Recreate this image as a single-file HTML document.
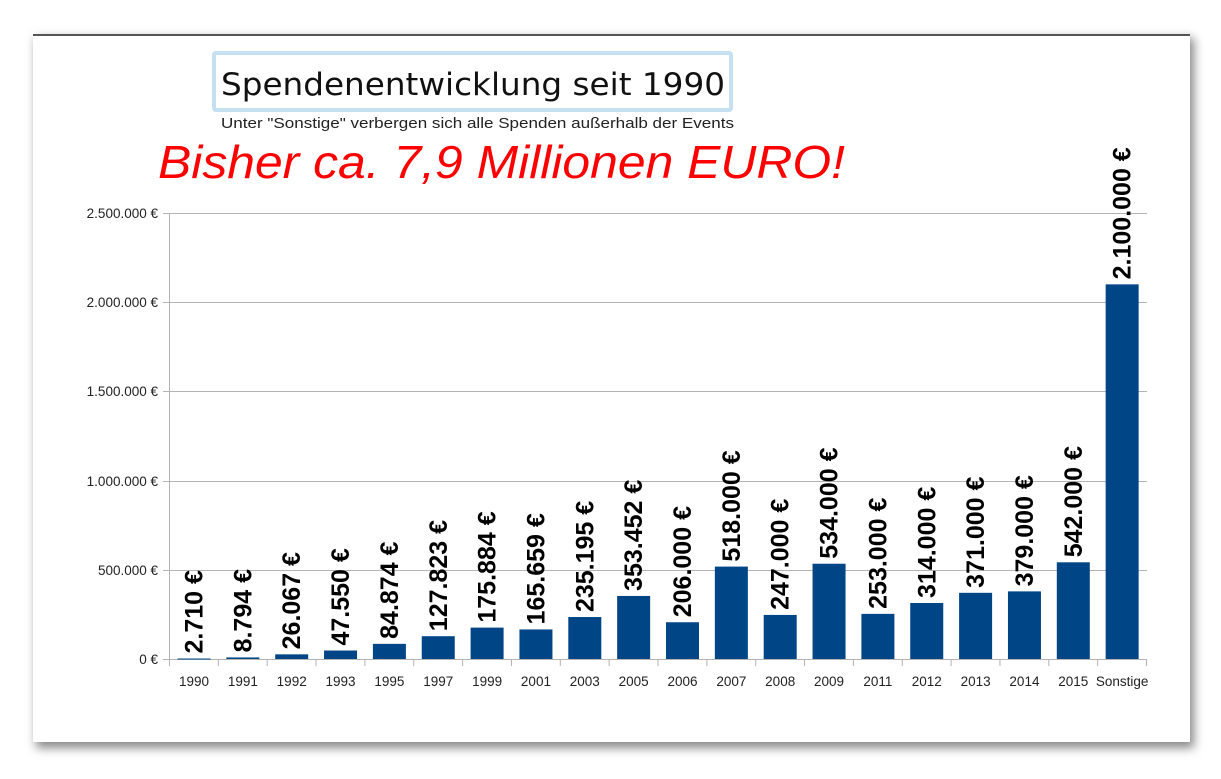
<!DOCTYPE html>
<html><head><meta charset="utf-8"><style>
body{margin:0;background:#fff;width:1221px;height:774px;overflow:hidden}
</style></head><body>
<svg width="1221" height="774" xmlns="http://www.w3.org/2000/svg" font-family="Liberation Sans, sans-serif">
<defs><filter id="sh" x="-5%" y="-5%" width="110%" height="110%"><feGaussianBlur stdDeviation="5"/></filter></defs>
<rect x="36" y="38" width="1158" height="710" fill="#888" filter="url(#sh)"/>
<rect x="33" y="34" width="1157" height="708" fill="#fff"/>
<rect x="33" y="34" width="1157" height="2" fill="#555"/>
<rect x="214" y="53" width="517" height="57" fill="none" stroke="#c5dff3" stroke-width="4" rx="2"/>
<text x="221" y="95" font-family="DejaVu Sans, sans-serif" font-size="31" fill="#111" textLength="504" lengthAdjust="spacingAndGlyphs">Spendenentwicklung seit 1990</text>
<text x="221" y="128" font-size="15" fill="#222" textLength="513" lengthAdjust="spacingAndGlyphs">Unter "Sonstige" verbergen sich alle Spenden außerhalb der Events</text>
<text x="158" y="178" font-size="46" font-style="italic" fill="#ff0000" textLength="687" lengthAdjust="spacingAndGlyphs">Bisher ca. 7,9 Millionen EURO!</text>
<g stroke="#b3b3b3" stroke-width="1">
<line x1="163" y1="213.5" x2="1147" y2="213.5"/>
<line x1="163" y1="302.5" x2="1147" y2="302.5"/>
<line x1="163" y1="391.5" x2="1147" y2="391.5"/>
<line x1="163" y1="481.5" x2="1147" y2="481.5"/>
<line x1="163" y1="570.5" x2="1147" y2="570.5"/>
<line x1="163" y1="659.5" x2="1147" y2="659.5"/>
<line x1="169.5" y1="213" x2="169.5" y2="665"/>
</g>
<g font-size="13.5" fill="#222" text-anchor="end">
<text x="158" y="218">2.500.000 €</text>
<text x="158" y="307">2.000.000 €</text>
<text x="158" y="396">1.500.000 €</text>
<text x="158" y="486">1.000.000 €</text>
<text x="158" y="575">500.000 €</text>
<text x="158" y="664">0 €</text>
</g>
<g id="chart"></g>
</svg>
<script>
var d=[["1990",2710,"2.710 €"],["1991",8794,"8.794 €"],["1992",26067,"26.067 €"],["1993",47550,"47.550 €"],["1995",84874,"84.874 €"],["1997",127823,"127.823 €"],["1999",175884,"175.884 €"],["2001",165659,"165.659 €"],["2003",235195,"235.195 €"],["2005",353452,"353.452 €"],["2006",206000,"206.000 €"],["2007",518000,"518.000 €"],["2008",247000,"247.000 €"],["2009",534000,"534.000 €"],["2011",253000,"253.000 €"],["2012",314000,"314.000 €"],["2013",371000,"371.000 €"],["2014",379000,"379.000 €"],["2015",542000,"542.000 €"],["Sonstige",2100000,"2.100.000 €"]];
var s="",w=48.85;
for(var i=0;i<=20;i++){var x=169.5+i*w;s+='<line x1="'+x+'" y1="659" x2="'+x+'" y2="666" stroke="#b3b3b3"/>';}
d.forEach(function(r,i){var c=194+i*w,y=659-r[1]/500000*89.2,h=659-y;
s+='<rect x="'+(c-16.5)+'" y="'+y+'" width="33" height="'+Math.max(h,1)+'" fill="#004586"/>';
s+='<text x="'+c+'" y="686" font-size="13.5" fill="#222" text-anchor="middle">'+r[0]+'</text>';
s+='<text transform="translate('+(c+8.5)+','+(y-5)+') rotate(-90)" font-size="25" font-weight="bold" fill="#000">'+r[2]+'</text>';});
document.getElementById("chart").innerHTML=s;
</script>
</body></html>
